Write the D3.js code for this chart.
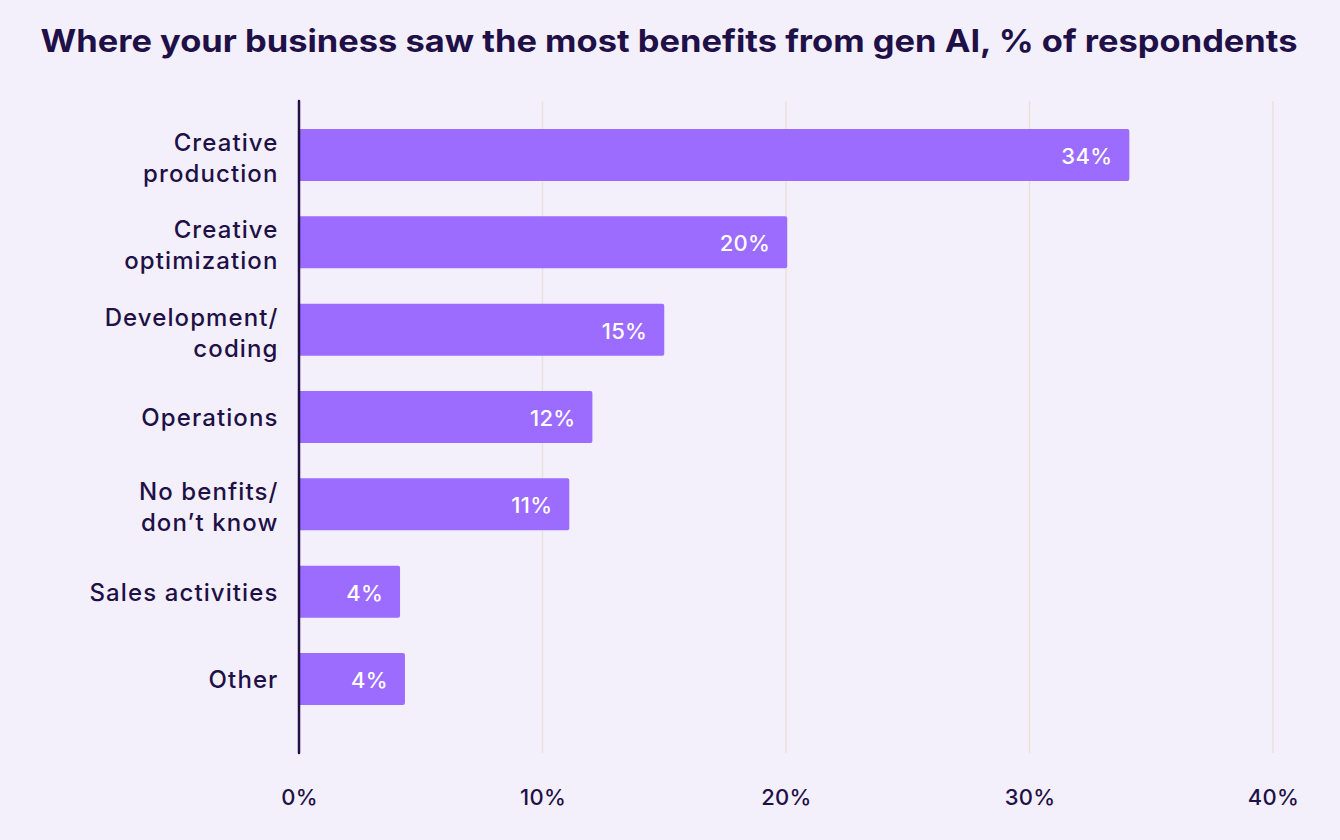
<!DOCTYPE html>
<html><head><meta charset="utf-8">
<script src="https://cdn.jsdelivr.net/npm/d3@7/dist/d3.min.js"></script>
<style>
html,body{margin:0;padding:0;background:#f3f0fb;}
svg{display:block;font-family:Inter,"Noto Sans",sans-serif;}
</style></head><body>
<svg id="chart" width="1340" height="840"></svg>
<script>
const titleText = "Where your business saw the most benefits from gen AI, % of respondents";
const categories = [["Creative","production"],["Creative","optimization"],["Development/","coding"],["Operations"],["No benfits/","don\u2019t know"],["Sales activities"],["Other"]];
const values = [34.1, 20.05, 15.0, 12.05, 11.1, 4.15, 4.35];
const valueLabels = ["34%","20%","15%","12%","11%","4%","4%"];
const tickValues = [0,10,20,30,40];
const tickLabels = ["0%","10%","20%","30%","40%"];

const svg = d3.select("#chart");
const ink = "#1f1147";
svg.append("rect").attr("width",1340).attr("height",840).attr("fill","#f3f0fb");

const title = svg.append("text").attr("x",669).attr("y",52).attr("text-anchor","middle")
  .attr("fill",ink).attr("font-size",31).attr("font-weight",700).text(titleText);
const tw = title.node().getComputedTextLength();
if (tw > 0) title.attr("textLength",1257).attr("lengthAdjust","spacingAndGlyphs");

const x = d3.scaleLinear().domain([0,40]).range([299,1273]);
const y = d3.scaleBand().domain(d3.range(categories.length)).range([111.3,722.7]).padding(0);
const yc = i => y(i)+y.bandwidth()/2;

// grid
svg.append("g").selectAll("line").data(tickValues.filter(d=>d>0)).join("line")
  .attr("x1",d=>x(d)).attr("x2",d=>x(d)).attr("y1",101).attr("y2",753)
  .attr("stroke","#e6e3dc").attr("stroke-width",1.5);

// bars
const bw = 52;
svg.append("g").selectAll("path").data(values).join("path")
  .attr("fill","#9b6cff")
  .attr("d",(d,i)=>{
    const x0=x(0)+1, x1=x(d), y0=yc(i)-bw/2, y1=yc(i)+bw/2, r=2;
    return `M${x0},${y0}H${x1-r}Q${x1},${y0} ${x1},${y0+r}V${y1-r}Q${x1},${y1} ${x1-r},${y1}H${x0}Z`;
  });

// value labels
svg.append("g").selectAll("text").data(values).join("text")
  .attr("x",d=>x(d)-17).attr("y",(d,i)=>yc(i)+9)
  .attr("text-anchor","end").attr("fill","#ffffff").attr("font-size",22).attr("font-weight",500)
  .attr("letter-spacing",0.3)
  .text((d,i)=>valueLabels[i]);

// category labels
const cl = svg.append("g").selectAll("text").data(categories).join("text")
  .attr("text-anchor","end").attr("fill",ink).attr("font-size",24).attr("font-weight",500)
  .attr("letter-spacing",1.1)
  .attr("y",(d,i)=>yc(i)+9 - (d.length-1)*13);
cl.selectAll("tspan").data(d=>d).join("tspan")
  .attr("x",278.5).attr("dy",(d,j)=>j===0?0:31).text(d=>d);

// axis line
svg.append("line").attr("x1",299).attr("x2",299).attr("y1",101).attr("y2",753)
  .attr("stroke",ink).attr("stroke-width",2.5).attr("stroke-linecap","round");

// x axis tick labels
const ax = svg.append("g").attr("transform","translate(0,796)")
  .call(d3.axisBottom(x).tickValues(tickValues).tickSize(0).tickFormat((d,i)=>tickLabels[i]));
ax.select(".domain").remove();
ax.selectAll("text").attr("fill",ink).attr("font-size",22).attr("dy",0).attr("y",9)
  .attr("font-weight",500).attr("letter-spacing",0.3)
  .attr("font-family","Inter,'Noto Sans',sans-serif");
</script>
</body></html>
